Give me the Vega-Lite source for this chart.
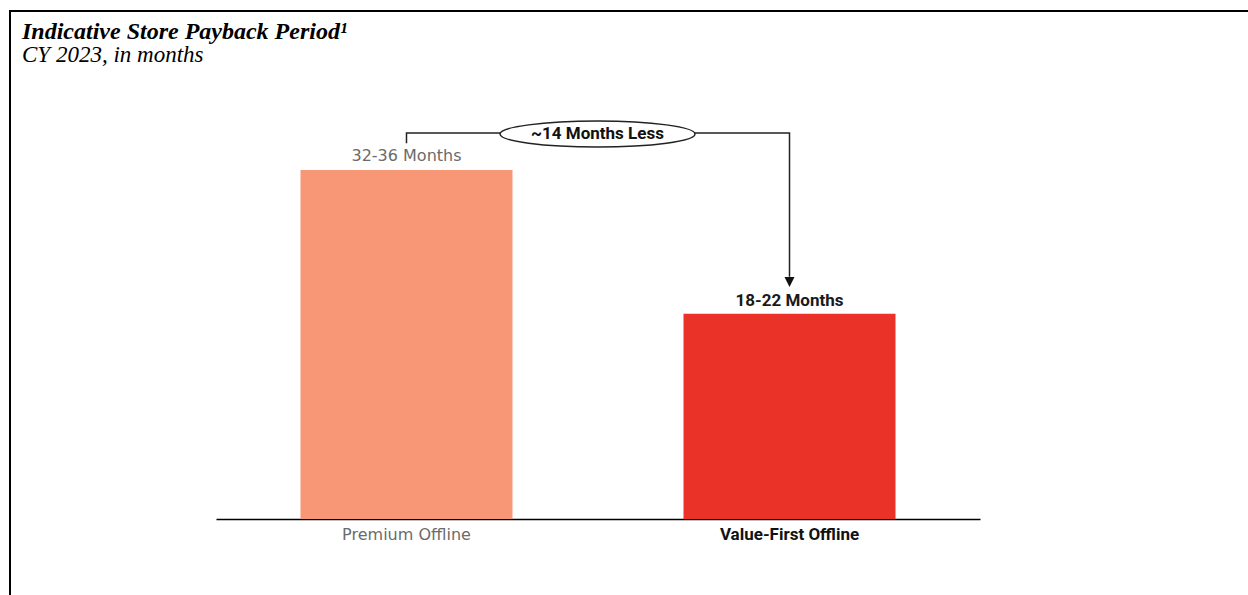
{
  "$schema": "https://vega.github.io/schema/vega-lite/v6.json",
  "autosize": "none",
  "width": 1239,
  "height": 585,
  "padding": {"left": 10, "top": 11, "right": -1, "bottom": -1},
  "background": "white",
  "config": {"view": {"stroke": "black", "strokeWidth": 2}},
  "title": {
    "text": "Indicative Store Payback Period¹",
    "subtitle": "CY 2023, in months",
    "anchor": "start",
    "frame": "group",
    "orient": "top",
    "offset": -56,
    "dx": 12,
    "font": "Liberation Serif",
    "fontSize": 24,
    "fontStyle": "italic",
    "fontWeight": "bold",
    "color": "black",
    "subtitleFont": "Liberation Serif",
    "subtitleFontSize": 23,
    "subtitleFontStyle": "italic",
    "subtitleColor": "black",
    "subtitlePadding": 0
  },
  "datasets": {
    "bars": [
      {"category": "Premium Offline", "months": 34, "label": "32-36 Months"},
      {"category": "Value-First Offline", "months": 20, "label": "18-22 Months"}
    ],
    "bracket": [
      {"category": "Premium Offline", "months": 36.6, "step": 1},
      {"category": "Premium Offline", "months": 37.6, "step": 2},
      {"category": "Value-First Offline", "months": 37.6, "step": 3},
      {"category": "Value-First Offline", "months": 23.6, "step": 4}
    ],
    "arrow": [{"category": "Value-First Offline", "months": 23.1}],
    "callout": [{"category": "Premium Offline", "months": 37.5, "text": "~14 Months Less"}]
  },
  "encoding": {
    "x": {
      "field": "category",
      "type": "nominal",
      "sort": ["Premium Offline", "Value-First Offline"],
      "scale": {"range": [206, 970], "paddingInner": 0.4465, "paddingOuter": 0.2206},
      "axis": {
        "title": null,
        "orient": "bottom",
        "offset": -77,
        "domainColor": "black",
        "domainWidth": 1.5,
        "ticks": false,
        "tickSize": 0,
        "labelPadding": 7,
        "labelAngle": 0,
        "labelFont": {"condition": {"test": "datum.value === 'Premium Offline'", "value": "DejaVu Sans"}, "value": "Roboto"},
        "labelFontSize": {"condition": {"test": "datum.value === 'Premium Offline'", "value": 16}, "value": 17},
        "labelFontWeight": {"condition": {"test": "datum.value === 'Premium Offline'", "value": "normal"}, "value": "bold"},
        "labelColor": {"condition": {"test": "datum.value === 'Premium Offline'", "value": "#6b6b6b"}, "value": "#111111"}
      }
    },
    "y": {
      "field": "months",
      "type": "quantitative",
      "scale": {"domain": [0, 40], "range": [508, 97.4], "nice": false, "zero": true},
      "axis": null
    }
  },
  "layer": [
    {
      "data": {"name": "bars"},
      "mark": {"type": "bar"},
      "encoding": {
        "color": {
          "field": "category",
          "type": "nominal",
          "scale": {"domain": ["Premium Offline", "Value-First Offline"], "range": ["#F89775", "#EB3228"]},
          "legend": null
        }
      }
    },
    {
      "data": {"name": "bars"},
      "transform": [{"filter": "datum.category === 'Premium Offline'"}],
      "mark": {"type": "text", "font": "DejaVu Sans", "fontSize": 16, "baseline": "alphabetic", "dy": -9, "color": "#6b6b6b"},
      "encoding": {"text": {"field": "label"}}
    },
    {
      "data": {"name": "bars"},
      "transform": [{"filter": "datum.category === 'Value-First Offline'"}],
      "mark": {"type": "text", "font": "Roboto", "fontSize": 17, "fontWeight": "bold", "baseline": "alphabetic", "dy": -8, "color": "#1a1a1a"},
      "encoding": {"text": {"field": "label"}}
    },
    {
      "data": {"name": "bracket"},
      "mark": {"type": "line", "color": "#222222", "strokeWidth": 1.5},
      "encoding": {"order": {"field": "step", "type": "quantitative"}}
    },
    {
      "data": {"name": "arrow"},
      "mark": {"type": "point", "shape": "M-1,-1L1,-1L0,1Z", "size": 100, "filled": true, "color": "#111111", "opacity": 1}
    },
    {
      "data": {"name": "callout"},
      "mark": {
        "type": "point",
        "shape": "M-1,0C-1,-0.0736,-0.5523,-0.1333,0,-0.1333C0.5523,-0.1333,1,-0.0736,1,0C1,0.0736,0.5523,0.1333,0,0.1333C-0.5523,0.1333,-1,0.0736,-1,0Z",
        "size": 38025,
        "filled": true,
        "fill": "white",
        "stroke": "#222222",
        "strokeWidth": 1.5,
        "opacity": 1,
        "fillOpacity": 1
      },
      "encoding": {
        "x": {"field": "category", "type": "nominal", "bandPosition": 1.401}
      }
    },
    {
      "data": {"name": "callout"},
      "mark": {"type": "text", "font": "Roboto", "fontSize": 17, "fontWeight": "bold", "baseline": "middle", "color": "#111111"},
      "encoding": {
        "x": {"field": "category", "type": "nominal", "bandPosition": 1.401},
        "text": {"field": "text"}
      }
    }
  ]
}
